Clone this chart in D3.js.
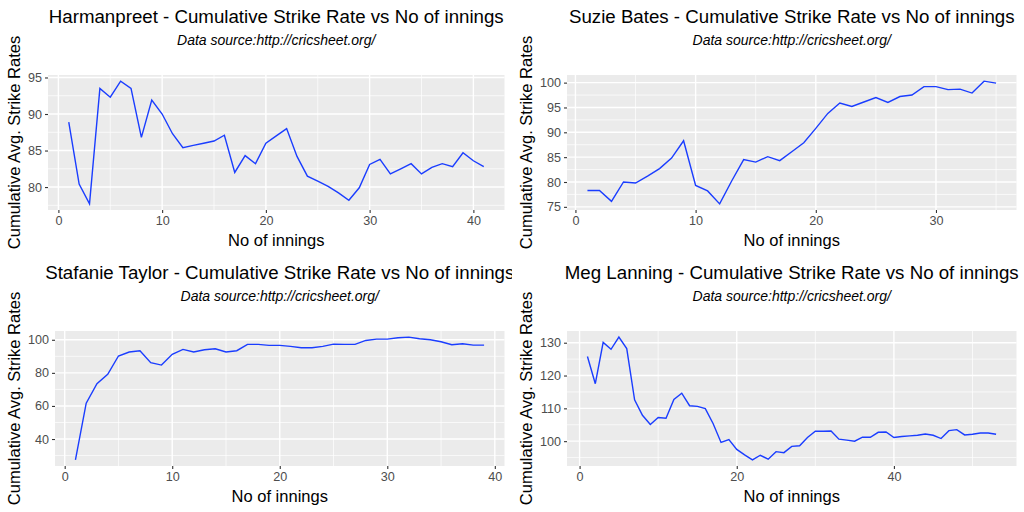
<!DOCTYPE html>
<html>
<head>
<meta charset="utf-8">
<script src="https://cdn.jsdelivr.net/npm/d3@7"></script>
<style>
  body { margin: 0; background: white; }
  svg { display: block; font-family: "Liberation Sans", Arial, sans-serif; }
</style>
</head>
<body>
<svg id="chart" width="1024" height="512"></svg>
<script>
// Cumulative strike rate per innings (innings number = position in array + 1)
const harmanpreetSR = [88.9, 80.4, 77.7, 93.5, 92.3, 94.5, 93.5, 86.8, 91.9, 90.0,
  87.3, 85.4, 85.7, 86.0, 86.3, 87.1, 82.0, 84.3, 83.2, 86.0,
  87.0, 88.0, 84.2, 81.5, 80.8, 80.1, 79.2, 78.2, 79.9, 83.1,
  83.8, 81.8, 82.5, 83.2, 81.8, 82.7, 83.2, 82.8, 84.7, 83.6, 82.8];

const suzieBatesSR = [78.3, 78.3, 76.1, 80.0, 79.8, 81.2, 82.7, 84.8, 88.3, 79.3,
  78.2, 75.6, 80.2, 84.5, 84.0, 85.1, 84.3, 86.1, 87.9, 90.8,
  93.8, 95.9, 95.2, 96.1, 97.0, 96.0, 97.2, 97.5, 99.2, 99.2,
  98.6, 98.7, 97.9, 100.3, 99.9];

const stafanieTaylorSR = [27.4, 61.7, 73.5, 79.1, 90.2, 92.6, 93.4, 86.2, 84.7, 91.2,
  94.2, 92.6, 94.0, 94.6, 92.6, 93.4, 97.2, 97.2, 96.6, 96.6,
  96.0, 95.2, 95.2, 96.0, 97.4, 97.2, 97.2, 99.6, 100.4, 100.4,
  101.2, 101.6, 100.6, 100.0, 98.8, 97.0, 97.6, 96.8, 96.8];

const megLanningSR = [125.8, 117.5, 130.1, 128.0, 131.7, 128.2, 112.6, 107.9, 105.1, 107.2,
  107.0, 112.7, 114.6, 110.8, 110.6, 109.9, 105.3, 99.6, 100.5, 97.5,
  95.8, 94.3, 95.7, 94.5, 96.8, 96.5, 98.4, 98.6, 101.1, 103.0,
  103.0, 103.1, 100.6, 100.3, 100.0, 101.2, 101.2, 102.7, 102.8, 101.1,
  101.4, 101.6, 101.8, 102.2, 101.8, 100.8, 103.2, 103.5, 101.9, 102.1,
  102.5, 102.5, 102.1];

// Chart titles and axis ticks
const playerNames = ["Harmanpreet", "Suzie Bates", "Stafanie Taylor", "Meg Lanning"];
const titleSuffix = " - Cumulative Strike Rate vs No of innings";
const subtitleText = "Data source:http://cricsheet.org/";
const xAxisTitle = "No of innings";
const yAxisTitle = "Cumulative Avg. Strike Rates";

const xTicks = [[0, 10, 20, 30, 40], [0, 10, 20, 30], [0, 10, 20, 30, 40], [0, 20, 40]];
const xMinorTicks = [[5, 15, 25, 35], [5, 15, 25, 35], [5, 15, 25, 35], [10, 30, 50]];
const yTicks = [[80, 85, 90, 95], [75, 80, 85, 90, 95, 100], [40, 60, 80, 100], [100, 110, 120, 130]];
const yMinorTicks = [[77.5, 82.5, 87.5, 92.5], [77.5, 82.5, 87.5, 92.5, 97.5], [30, 50, 70, 90], [95, 105, 115, 125]];

const seriesList = [harmanpreetSR, suzieBatesSR, stafanieTaylorSR, megLanningSR];

const svg = d3.select("#chart");
const cellW = 512, cellH = 256;

// ggplot style 5% expansion of the data range
function expand(extent) {
  const pad = (extent[1] - extent[0]) * 0.05;
  return [extent[0] - pad, extent[1] + pad];
}

seriesList.forEach((values, i) => {
  const x0 = (i % 2) * cellW;
  const y0 = Math.floor(i / 2) * cellH;

  svg.append("clipPath").attr("id", `cell${i}`)
    .append("rect").attr("x", x0).attr("y", y0).attr("width", cellW).attr("height", cellH);

  const g = svg.append("g").attr("clip-path", `url(#cell${i})`);

  // measure the widest y tick label to place the panel like ggplot does
  const probe = g.append("g").attr("font-size", 12.6);
  let maxW = 0;
  yTicks[i].forEach(t => {
    const n = probe.append("text").text(t).node();
    maxW = Math.max(maxW, n.getComputedTextLength());
  });
  probe.remove();

  const left = x0 + 34 + maxW;
  const right = x0 + 504.5;
  const top = y0 + 75;
  const bottom = y0 + 210;

  const points = values.map((v, k) => ({innings: k + 1, sr: v}));

  const x = d3.scaleLinear()
    .domain(expand(d3.extent(points, d => d.innings)))
    .range([left, right]);
  const y = d3.scaleLinear()
    .domain(expand(d3.extent(points, d => d.sr)))
    .range([bottom, top]);

  // panel background
  g.append("rect")
    .attr("x", left).attr("y", top)
    .attr("width", right - left).attr("height", bottom - top)
    .attr("fill", "#EBEBEB");

  // minor grid
  g.append("g").selectAll("line").data(xMinorTicks[i]).join("line")
    .attr("x1", d => x(d)).attr("x2", d => x(d))
    .attr("y1", top).attr("y2", bottom)
    .attr("stroke", "white").attr("stroke-width", 0.7);
  g.append("g").selectAll("line").data(yMinorTicks[i]).join("line")
    .attr("x1", left).attr("x2", right)
    .attr("y1", d => y(d)).attr("y2", d => y(d))
    .attr("stroke", "white").attr("stroke-width", 0.7);

  // major grid
  g.append("g").selectAll("line").data(xTicks[i]).join("line")
    .attr("x1", d => x(d)).attr("x2", d => x(d))
    .attr("y1", top).attr("y2", bottom)
    .attr("stroke", "white").attr("stroke-width", 1.4);
  g.append("g").selectAll("line").data(yTicks[i]).join("line")
    .attr("x1", left).attr("x2", right)
    .attr("y1", d => y(d)).attr("y2", d => y(d))
    .attr("stroke", "white").attr("stroke-width", 1.4);

  // axes
  const xAxis = g.append("g")
    .attr("transform", `translate(0,${bottom})`)
    .call(d3.axisBottom(x).tickValues(xTicks[i]).tickSize(3).tickPadding(3));
  const yAxis = g.append("g")
    .attr("transform", `translate(${left},0)`)
    .call(d3.axisLeft(y).tickValues(yTicks[i]).tickSize(3).tickPadding(3));
  [xAxis, yAxis].forEach(a => {
    a.select(".domain").remove();
    a.selectAll(".tick line").attr("stroke", "#333333").attr("stroke-width", 1.1);
    a.selectAll(".tick text")
      .attr("fill", "#4D4D4D")
      .attr("font-size", 12.6)
      .attr("font-family", "Liberation Sans, Arial, sans-serif");
  });

  // the line
  g.append("path")
    .datum(points)
    .attr("fill", "none")
    .attr("stroke", "#1a3dff")
    .attr("stroke-width", 1.4)
    .attr("d", d3.line().x(d => x(d.innings)).y(d => y(d.sr)));

  const cx = (left + right) / 2;

  // titles
  g.append("text")
    .attr("x", cx).attr("y", y0 + 23)
    .attr("text-anchor", "middle")
    .attr("font-size", 18.7)
    .text(playerNames[i] + titleSuffix);
  g.append("text")
    .attr("x", cx).attr("y", y0 + 45)
    .attr("text-anchor", "middle")
    .attr("font-size", 14)
    .attr("font-style", "italic")
    .text(subtitleText);

  g.append("text")
    .attr("x", cx).attr("y", y0 + 246)
    .attr("text-anchor", "middle")
    .attr("font-size", 16.5)
    .text(xAxisTitle);
  g.append("text")
    .attr("transform", `translate(${x0 + 20},${(top + bottom) / 2}) rotate(-90)`)
    .attr("text-anchor", "middle")
    .attr("font-size", 16.5)
    .text(yAxisTitle);
});
</script>
</body>
</html>
